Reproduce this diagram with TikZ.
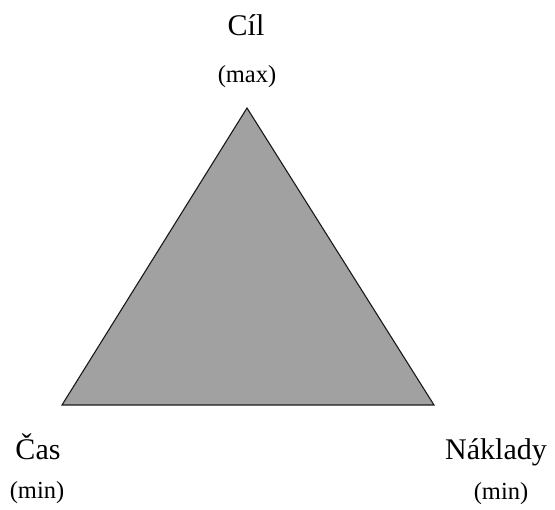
\documentclass[tikz,border=0pt]{standalone}
\usepackage{fontspec}
\setmainfont{Liberation Serif}
\begin{document}
\begin{tikzpicture}[x=1pt,y=-1pt,
  big/.style={font=\fontsize{30}{32}\selectfont, inner sep=0pt, anchor=base},
  small/.style={font=\fontsize{24.5}{26}\selectfont, inner sep=0pt, anchor=base},
  tri/.style={draw=black!90, line width=1.1pt, fill=black!37, line join=miter}]
\useasboundingbox (0,0) rectangle (555,510);
\coordinate (top) at (247,108);
\coordinate (bl) at (62,405);
\coordinate (br) at (434,405);
\draw[tri] (top) -- (bl) -- (br) -- cycle;
\node[big] (cil) at (246,36) {Cíl};
\node[small] (max) at (247,83) {(max)};
\node[big] (cas) at (38,460) {Čas};
\node[small] (min1) at (37,499) {(min)};
\node[big] (nakl) at (496,460) {Náklady};
\node[small] (min2) at (501,500) {(min)};
\end{tikzpicture}
\end{document}
